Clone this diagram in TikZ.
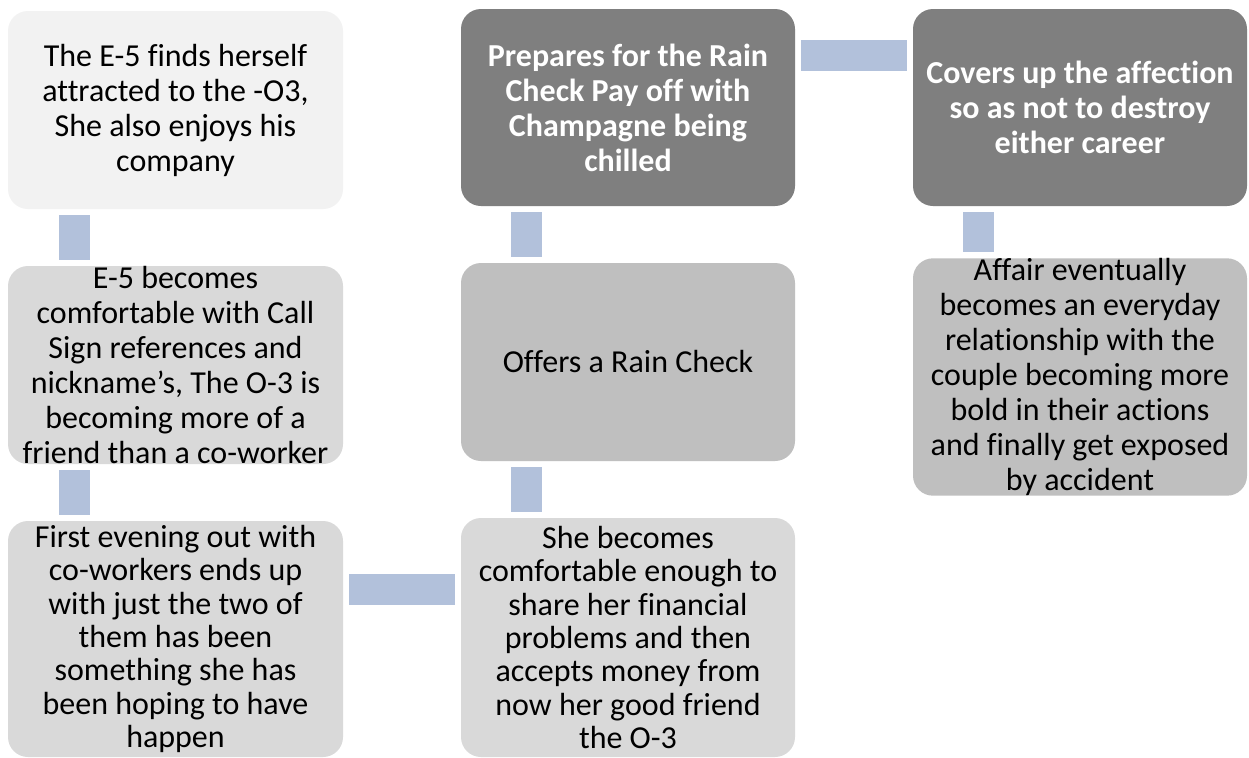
\documentclass[tikz,border=0pt]{standalone}
\usepackage{fontspec}
\setmainfont[Ligatures=NoCommon]{Carlito}
\usetikzlibrary{calc}
\definecolor{boxA}{HTML}{F2F2F2}
\definecolor{boxL}{HTML}{D9D9D9}
\definecolor{boxM}{HTML}{BFBFBF}
\definecolor{boxD}{HTML}{7F7F7F}
\definecolor{connC}{RGB}{178,193,219}
\tikzset{
  card/.style={rounded corners=15pt, inner sep=0pt, align=center,
    font=\fontsize{24pt}{26.25pt}\selectfont},
  lightcard/.style={card, fill=boxL, text=black},
  tightcard/.style={lightcard, font=\fontsize{24pt}{25pt}\selectfont},
  darkcard/.style={card, fill=boxD, text=white,
    font=\fontsize{24pt}{26.25pt}\selectfont\bfseries},
  midcard/.style={card, fill=boxM, text=black},
  conn/.style={fill=connC}
}
\begin{document}
\begin{tikzpicture}[x=0.75pt,y=-0.75pt]
\useasboundingbox (0,0) rectangle (1249,757);
\fill[white] (0,0) rectangle (1249,757);
% left column
\node[card, fill=boxA, minimum width=335*0.75pt, minimum height=198*0.75pt] (A) at (175.5,110)
  {The E-5 finds herself\\attracted to the -O3,\\She also enjoys his\\company};
\node[lightcard, minimum width=335*0.75pt, minimum height=198*0.75pt] (B) at (175.5,365)
  {E-5 becomes\\comfortable with Call\\Sign references and\\nickname’s, The O-3 is\\becoming more of a\\friend than a co-worker};
\node[tightcard, minimum width=335*0.75pt, minimum height=236*0.75pt] (C) at (175.5,639)
  {First evening out with\\co-workers ends up\\with just the two of\\them has been\\something she has\\been hoping to have\\happen};
% middle column
\node[darkcard, minimum width=334*0.75pt, minimum height=197*0.75pt] (D) at (628,107.5)
  {Prepares for the Rain\\Check Pay off with\\Champagne being\\chilled};
\node[midcard, minimum width=334*0.75pt, minimum height=198*0.75pt] (E) at (628,362)
  {Offers a Rain Check};
\node[tightcard, minimum width=334*0.75pt, minimum height=239*0.75pt] (F) at (628,637.5)
  {She becomes\\comfortable enough to\\share her financial\\problems and then\\accepts money from\\now her good friend\\the O-3};
% right column
\node[darkcard, minimum width=334*0.75pt, minimum height=197*0.75pt] (G) at (1080,107.5)
  {Covers up the affection\\so as not to destroy\\either career};
\node[midcard, minimum width=334*0.75pt, minimum height=228*0.75pt] (H) at (1080,377)
  {Affair eventually\\becomes an everyday\\relationship with the\\couple becoming more\\bold in their actions\\and finally get exposed\\by accident};
% connectors
\fill[conn] ($(A.south west)+(51,6)$) rectangle ($(B.north west)+(82,-6)$);
\fill[conn] ($(B.south west)+(51,6)$) rectangle ($(C.north west)+(82,-6)$);
\fill[conn] ($(C.north east)+(6,53)$) rectangle ($(F.west |- C.north)+(-6,84)$);
\fill[conn] ($(E.south west)+(50,6)$) rectangle ($(F.north west)+(81,-6)$);
\fill[conn] ($(D.south west)+(50,6)$) rectangle ($(E.north west)+(81,-6)$);
\fill[conn] ($(D.north east)+(6,31)$) rectangle ($(G.west |- D.north)+(-6,62)$);
\fill[conn] ($(G.south west)+(50,6)$) rectangle ($(H.north west)+(81,-6)$);
\end{tikzpicture}
\end{document}
